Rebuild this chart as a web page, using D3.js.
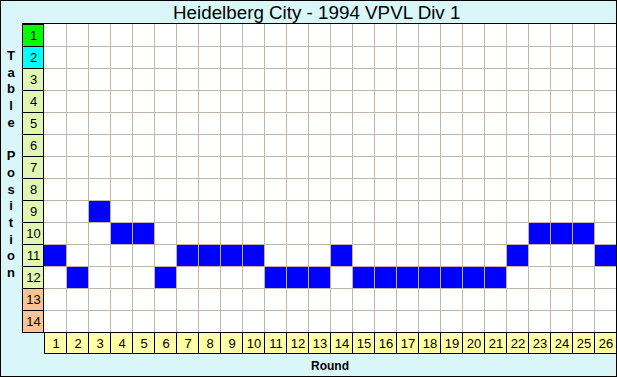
<!DOCTYPE html>
<html><head><meta charset="utf-8">
<script src="https://cdn.jsdelivr.net/npm/d3@7/dist/d3.min.js"></script>
<style>html,body{margin:0;padding:0;background:#fff}svg{display:block}</style>
</head><body>
<script>
const title = "Heidelberg City - 1994 VPVL Div 1";
const rounds = d3.range(1, 27);
const positions = d3.range(1, 15);
const tablePosition = [11,12,9,10,10,12,11,11,11,11,12,12,12,11,12,12,12,12,12,12,12,11,10,10,10,11];
const yLabel = "Table Position";
const xLabel = "Round";

const W = 617, H = 377;
const gx0 = 44, gx1 = 616, gy0 = 24, gy1 = 332;

const svg = d3.select("body").append("svg").attr("width", W).attr("height", H);
svg.append("rect").attr("x",0.5).attr("y",0.5).attr("width",W-1).attr("height",H-1)
  .attr("fill","#d9f7f8").attr("stroke","#000");

const x = d3.scaleBand().domain(rounds).range([gx0, gx1]);
const y = d3.scaleBand().domain(positions).range([gy0, gy1]);

// grid background
svg.append("rect").attr("x",gx0).attr("y",gy0).attr("width",gx1-gx0).attr("height",gy1-gy0).attr("fill","#fff");

// bars (cells)
svg.append("g").selectAll("rect").data(tablePosition).join("rect")
  .attr("x",(d,i)=>x(rounds[i])).attr("y",d=>y(d))
  .attr("width",x.bandwidth()).attr("height",y.bandwidth()).attr("fill","#0000ff");

// grid lines
const grid = svg.append("g").attr("stroke","#bdb6a9").attr("stroke-width",1).attr("shape-rendering","crispEdges");
rounds.slice(1).forEach(r=>{
  grid.append("line").attr("x1",x(r)+0.5).attr("x2",x(r)+0.5).attr("y1",gy0).attr("y2",gy1);
});
positions.slice(1).forEach(p=>{
  grid.append("line").attr("x1",gx0).attr("x2",gx1).attr("y1",y(p)+0.5).attr("y2",y(p)+0.5);
});
// top border
svg.append("line").attr("x1",22).attr("x2",gx1).attr("y1",gy0-0.5).attr("y2",gy0-0.5).attr("stroke","#000");

// y axis label boxes
const rowColor = p => p===1 ? "#00ff00" : p===2 ? "#00ffff" : p>=13 ? "#f8c494" : "#e2f6b4";
const yl = svg.append("g");
positions.forEach(p=>{
  yl.append("rect").attr("x",22.5).attr("y",y(p)+0.5).attr("width",21).attr("height",y.bandwidth())
    .attr("fill",rowColor(p)).attr("stroke","#000");
  yl.append("text").attr("x",33.5).attr("y",y(p)+y.bandwidth()/2+5).attr("text-anchor","middle")
    .attr("font-family","Liberation Sans, Arial, sans-serif").attr("font-size",13).text(p);
});

// x axis label boxes
const xl = svg.append("g");
rounds.forEach(r=>{
  xl.append("rect").attr("x",x(r)+0.5).attr("y",gy1+0.5).attr("width",x.bandwidth()).attr("height",21)
    .attr("fill","#ffffa8").attr("stroke","#000");
  xl.append("text").attr("x",x(r)+x.bandwidth()/2+1).attr("y",gy1+16).attr("text-anchor","middle")
    .attr("font-family","Liberation Sans, Arial, sans-serif").attr("font-size",13).text(r);
});

// title
svg.append("text").attr("x",173).attr("y",18.5)
  .attr("font-family","Liberation Sans, Arial, sans-serif").attr("font-size",18.8).text(title);

// x label
svg.append("text").attr("x",330).attr("y",370).attr("text-anchor","middle")
  .attr("font-family","Liberation Sans, Arial, sans-serif").attr("font-weight","bold").attr("font-size",12).text(xLabel);

// y label, stacked letters
const letters = yLabel.split("");
svg.append("g").selectAll("text").data(letters).join("text")
  .attr("x",11).attr("y",(d,i)=>60+i*16.7).attr("text-anchor","middle")
  .attr("font-family","Liberation Sans, Arial, sans-serif").attr("font-weight","bold").attr("font-size",13)
  .text(d=>d);
</script>
</body></html>
